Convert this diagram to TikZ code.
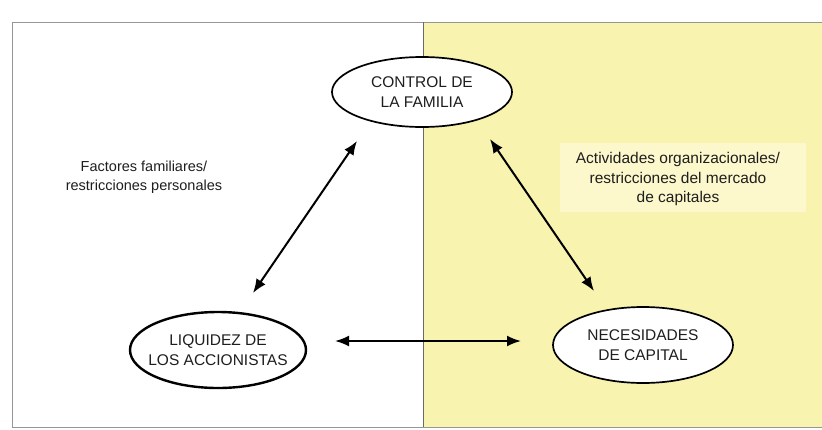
\documentclass[tikz,border=0pt]{standalone}
\usepackage{fontspec}
\setmainfont{Liberation Sans}
\usetikzlibrary{shapes.geometric,arrows.meta}
\definecolor{paneyellow}{RGB}{249,243,176}
\definecolor{boxyellow}{RGB}{252,248,204}
\definecolor{framegray}{RGB}{150,150,150}
\definecolor{txt}{RGB}{30,30,30}
\tikzset{
  oval/.style={ellipse, draw=black, fill=white, line width=1.7pt, inner sep=0pt,
    minimum width=180pt, minimum height=70pt, align=center, font=\fontsize{15.5}{20}\selectfont, text=txt},
  note/.style={align=center, text=txt},
  dbl/.style={line width=2pt, {Latex[length=14pt,width=11pt]}-{Latex[length=14pt,width=11pt]}}
}
\begin{document}
\begin{tikzpicture}[x=1pt,y=-1pt]
\useasboundingbox (0,0) rectangle (822,429);
% panels
\fill[paneyellow] (423,22) rectangle (822,427);
\fill[boxyellow] (560,143) rectangle (806,212);
\draw[framegray, line width=0.6pt] (822,22) -- (12,22) -- (12,427) -- (822,427);
\draw[framegray!70!black, line width=0.6pt] (423,22) -- (423,427);
% nodes
\node[oval] (ctrl) at (422,92) {CONTROL DE\\LA FAMILIA};
\node[oval, line width=2.4pt, inner xsep=-12pt, minimum width=176pt, minimum height=76pt] (liq) at (218,350) {LIQUIDEZ DE\\LOS ACCIONISTAS};
\node[oval, minimum width=180pt, minimum height=76pt] (nec) at (643,345) {NECESIDADES\\DE CAPITAL};
% labels
\node[note, font=\fontsize{14.5}{19}\selectfont] (ff) at (144,177) {Factores familiares/\\restricciones personales};
\node[note, font=\fontsize{15.5}{19.5}\selectfont] (ao) at (678,179) {Actividades organizacionales/\\restricciones del mercado\\de capitales};
% connector end points
\coordinate (l1) at (253,293);
\coordinate (l2) at (357,141);
\coordinate (r1) at (490,139);
\coordinate (r2) at (594,291);
\coordinate (h1) at (335,341);
\coordinate (h2) at (521,341);
\draw[dbl] (l1) -- (l2);
\draw[dbl] (r1) -- (r2);
\draw[dbl] (h1) -- (h2);
\end{tikzpicture}
\end{document}
